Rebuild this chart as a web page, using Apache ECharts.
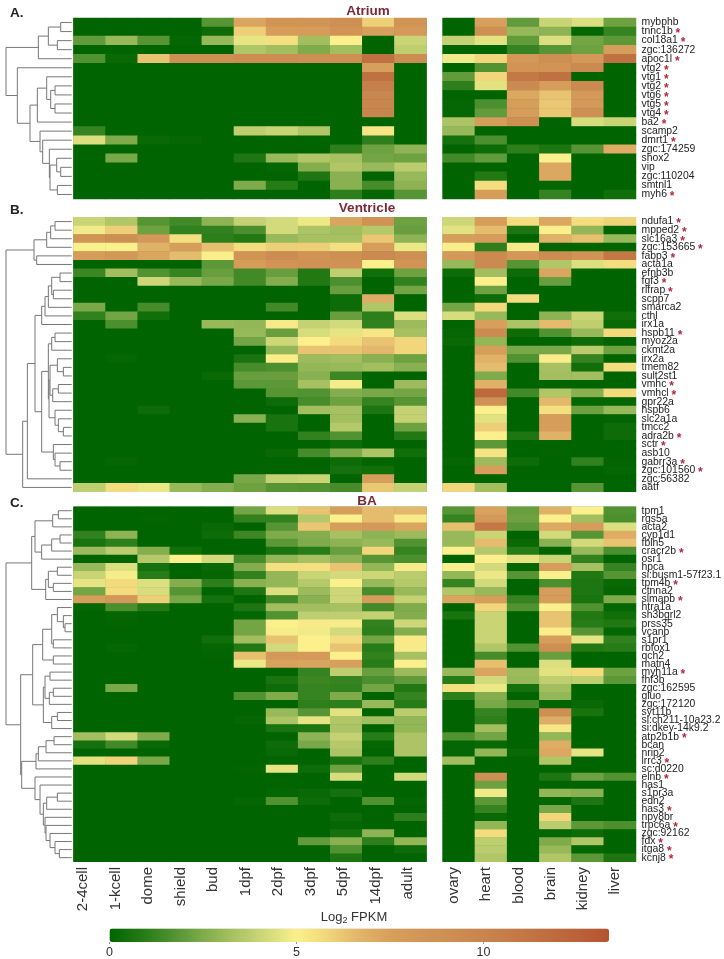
<!DOCTYPE html>
<html><head><meta charset="utf-8">
<style>html,body{margin:0;padding:0;background:#fff}#c{width:724px;height:959px}</style>
<script src="https://cdn.jsdelivr.net/npm/echarts@6/dist/echarts.min.js"></script>
</head><body><div id="c"></div>
<script>
const stages=['2-4cell','1-kcell','dome','shield','bud','1dpf','2dpf','3dpf','5dpf','14dpf','adult'];
const tissues=['ovary','heart','blood','brain','kidney','liver'];
const colorTicks=[0,5,10];
const genesA=['mybphb','tnnc1b*','col18a1*','zgc:136272','apoc1l*','vtg2*','vtg1*','vtg2*','vtg6*','vtg5*','vtg4*','ba2*','scamp2','dmrt1*','zgc:174259','shox2','vip','zgc:110204','smtnl1','myh6*'];
const genesB=['ndufa1*','mpped2*','slc16a3*','zgc:153665*','fabp3*','acta1a','efnb3b','fgf3*','rlfrap*','scpp7','smarca2','cthl','irx1a','hspb11*','myoz2a','ckmt2a','irx2a','tmem82','sult2st1','vmhc*','vmhcl*','gpr22a','hspb6','slc2a1a','tmcc2','adra2b*','sctr*','asb10','gabrr3a*','zgc:101560*','zgc:56382','aatf'];
const genesC=['tpm1','rgs5a','acta2','cyp1d1','fbln5','cracr2b*','osr1','hpca','si:busm1-57f23.1','tpm4b*','ctnna2','slmapb*','htra1a','sh3bgrl2','prss35','vcanb','s1pr1','rbfox1','qch2','matn4','myh11a*','fhf3b','zgc:162595','gluo','zgc:172120','syt11b','si:ch211-10a23.2','si:dkey-14k9.2','atp2b1b*','bcan','nrip2','lrrc3*','sc:d0220','elnb*','has1','s1pr3a','edn2','has3*','npy8br','trpc6a*','zgc:92162','fdx*','itga8*','kcnj8*'];
const devA=[
[0,0,0,0,1.8,7.3,8.5,8.5,9,6,8.5],
[0,0,0,0,.3,6,7.8,7.8,8.5,7.5,8],
[2,3,1.8,.1,3,4.6,5.5,3.2,5,0,4],
[0,0,0,0,0,3.5,3.2,2.5,3.2,0,3.8],
[1.7,.2,6.3,9,9,9.2,9.2,9,9,11.5,9.2],
[0,0,0,0,0,0,0,0,0,7.5,0],
[0,0,0,0,0,0,0,0,0,11.5,0],
[0,0,0,0,0,0,0,0,0,10.5,0],
[0,0,0,0,0,0,0,0,0,9.8,0],
[0,0,0,0,0,0,0,0,0,9.8,0],
[0,0,0,0,0,0,0,0,0,10,0],
[0,0,0,0,0,0,0,0,0,0,0],
[1.2,0,0,0,0,3.8,4,3.5,0,5.3,0],
[4.4,2.5,.2,.1,0,0,0,0,0,1,0],
[0,0,0,0,0,0,0,0,1,2.2,2.8],
[0,2.4,0,0,0,.7,3,3.5,3.3,2.3,2.2],
[0,0,0,0,0,0,.1,2.6,3.5,3,3.7],
[0,0,0,0,0,0,0,.7,2.7,0,3],
[0,0,0,0,0,2.5,.9,0,2.7,1.5,2.8],
[0,0,0,0,0,0,0,0,1,.1,1.8]];
const tisA=[
[0,7.5,2,4,4.4,2.2],[0,9,3,2.8,.1,1.2],[3.9,4.5,2,4.4,2.3,1.9],[0,0,1.2,1.8,2.2,7.6],[4.8,5.8,8.2,9,8,11.5],
[0,1.7,8.5,8.5,9.5,0],[2,5.8,11,11.5,0,0],[1,4.5,9.5,7.8,9.5,0],[0,0,7.2,6.3,8,0],[.1,1.6,7.6,6.2,8,0],
[.1,2,7.8,6.2,9,0],[3.4,7.6,9,0,4.3,4],[3,0,0,0,0,0],[.5,1.6,0,0,0,0],[0,.3,1,.7,1.8,7],
[1.4,2,0,5,0,0],[0,0,0,7.2,0,0],[0,.8,0,7.2,0,0],[0,5.6,0,.1,0,0],[0,7.8,0,1.2,0,.4]];
const devB=[
[4,3.5,1.8,1.4,2.8,3.9,4.2,4.7,7.3,8.7,2.2],
[4.8,6,2.2,1.1,1.1,1.6,4.2,3.4,3.2,3.6,2.1],
[8.5,9,8,5.5,1,.8,3,3.3,3.3,6.2,2.8],
[5,5,6.8,7.6,6.4,5.6,6,6,5.5,7.6,4.7],
[7.8,8.2,7.3,6.5,5.1,8.5,9.2,8.5,9,9.5,9],
[0,0,0,0,1.9,7.8,8.4,8.7,8.8,5,8.5],
[1.3,3.2,1.7,1.2,2.1,1.4,2.1,.8,3.8,.4,2.2],
[0,0,4.1,3,2.4,1.4,2.6,.8,1.6,0,1.1],
[0,0,0,0,0,0,0,0,2.1,0,2.3],
[0,0,0,0,0,0,0,0,.3,7,0],
[2.4,0,1.5,0,0,0,1.4,0,.3,3.5,0],
[1.1,2.3,.4,0,0,0,0,0,2.1,1,4.4],
[0,1.6,0,0,3,2.9,5.2,3.9,4.2,1.1,3.1],
[0,0,0,0,0,3,2.1,4.3,4.6,5.3,3.3],
[0,0,0,0,0,2.3,4.1,5,5.7,6.3,5.8],
[0,0,0,0,0,0,2.9,6.3,6.3,6.6,5.8],
[0,.1,0,0,0,.6,5.1,3.1,3.2,2.7,2.2],
[0,0,0,0,0,1.5,1.6,2.9,3,3.2,2.7],
[0,0,0,0,.2,2.1,2.1,2.7,1.3,0,0],
[0,0,0,0,0,1.9,1.9,3.3,4.9,0,3.1],
[0,0,0,0,0,0,1.8,1.7,2.6,2.4,2.3],
[0,0,0,0,0,0,.3,1.5,2.2,1.2,1.8],
[0,0,.3,0,0,0,0,3.2,3.3,.7,3.9],
[0,0,0,0,0,2.7,.6,0,3.2,0,3.9],
[0,0,0,0,0,0,.6,0,3.6,0,2.2],
[0,0,0,0,0,0,0,1.1,1.7,0,.8],
[0,0,0,0,0,0,0,0,.3,0,0],
[0,0,0,0,0,0,.2,1.5,2.5,3.4,.4],
[0,.1,0,0,0,0,0,0,.3,.05,0],
[0,0,0,0,0,0,0,.05,.5,.4,0],
[0,0,0,0,0,2.4,3.9,4,0,7.6,0],
[3.8,5.6,4.7,3,2.6,2.2,1.8,1.7,1.5,6.2,3.9]];
const tisB=[
[4.1,7.8,5.6,7.2,5.6,5.9],[4.5,6.5,.7,5,2.9,0],[7.6,7.8,0,6.8,6.4,3],[5.1,1,5.2,0,0,0],[8,9.5,8.2,9.2,8.5,11],
[3,9.5,1.8,3.5,4.4,5.6],[.3,3.2,.3,7.3,0,0],[0,5,0,2.1,0,0],[0,2.2,0,0,0,0],[0,.3,5.6,0,0,0],
[2.3,5.7,0,0,0,0],[4.3,3,0,2.8,4,.4],[0,7.5,3.4,6.5,3.8,.2],[.1,9.3,.3,1.7,3,5.7],[.2,2.9,0,0,.3,0],
[0,7.7,2.4,2.4,3.7,2.2],[0,6.8,1.7,5.1,1.2,0],[0,6.5,0,3.3,.4,5.6],[0,2.5,0,3.2,3.2,0],[0,6.8,0,0,0,0],
[0,12,1.4,3.5,2.7,5.7],[0,8.8,0,6.6,.1,.1],[0,5,0,5.5,2.2,3],[0,4.5,0,7.8,0,.05],[0,6,0,7.7,0,.3],
[0,5,.7,6.8,0,.3],[0,1.9,0,0,0,0],[0,5.4,0,.05,0,0],[.1,3.1,.3,0,1.1,.05],[0,7.7,0,0,0,.1],
[0,0,0,0,0,0],[5.8,3.2,0,0,1.8,0]];
const devC=[
[0,0,0,0,0,2.3,4.4,6.3,7.6,6.5,6.6],
[0,0,.05,0,0,1.1,1.1,3.6,5,6.5,5.2],
[0,0,0,0,.2,0,1.8,6.2,7.6,8,7.3],
[1.1,2.8,0,0,.3,1.3,2.5,2.6,3.3,2.8,3.1],
[.6,1,0,0,0,0,1.9,2.5,2.8,3,1.7],
[3.1,3.7,2.6,.4,0,0,.6,.9,2.1,5.8,1.2],
[0,0,3.6,5,4.2,1.5,2.9,3.3,2.8,1.8,1.6],
[3,4.4,.5,0,.2,2.6,5.5,5.5,6.3,2.9,4.9],
[4,4.9,.9,0,.1,1.1,2.9,4,4.2,4.1,3.7],
[4.6,5.7,4.4,2.6,1,2.7,2.9,3.6,5,3,3.6],
[2.3,5.6,4.3,1.8,0,.7,4.4,3.1,4.1,1.5,3],
[7.6,8,6,2.4,.5,0,1.4,2.7,4.1,7.8,3.9],
[.1,1.6,.8,0,0,.7,3.2,3.2,3.3,1.4,2.5],
[0,.1,0,0,0,.1,1.7,3.8,3.8,3.9,2.6],
[0,.05,0,0,0,2.3,5,5.2,4.9,1.1,4.1],
[0,0,0,0,0,2.3,4.9,4.8,4.2,1,2.6],
[0,0,0,0,.4,3.2,6.3,5,5.6,2.3,5.2],
[0,.1,0,0,.1,.8,4.2,5,6.3,.9,5.2],
[0,0,0,0,.05,6.4,8,7.9,5,1.1,3.3],
[0,0,0,0,0,4.7,7.4,7.3,7.5,.9,5],
[0,0,0,0,0,0,.05,1.2,3.8,2.1,3.1],
[0,0,0,0,0,0,.6,1.3,1.2,1.6,2],
[0,2.4,0,0,0,0,.3,1.2,1.1,2.3,.8],
[0,0,0,0,0,1.7,2.5,1.2,2.5,0,1.2],
[0,0,0,0,0,0,0,1,1,3,.9],
[0,0,0,0,0,0,3,1.8,4.5,0,3.7],
[0,0,0,0,0,.1,3.4,4.6,3.5,3.2,2.9],
[0,0,0,0,0,0,.6,.7,3.4,0,2.9],
[3.2,4.2,2.5,0,0,0,0,2.8,3.9,.9,3.4],
[.5,1.4,.2,0,0,0,.3,2.4,3.6,.1,3.4],
[0,0,0,0,0,0,.2,0,3.4,0,3.4],
[4.5,5.9,2.4,0,0,0,0,0,.6,1,0],
[0,0,0,0,0,.05,4.6,.3,2.2,0,0],
[0,0,0,0,0,0,0,0,4.3,0,4.2],
[0,0,0,0,0,0,0,0,0,0,0],
[0,0,0,0,0,0,.1,.2,.5,0,0],
[0,0,0,0,0,.1,1.7,.3,0,1.7,.1],
[0,0,0,0,0,0,0,0,0,0,0],
[0,0,0,0,0,0,0,0,.3,0,1],
[0,0,0,0,0,0,0,0,.1,0,0],
[0,0,0,0,0,0,0,0,.5,2.8,0],
[0,0,0,0,0,0,0,2,2.7,1,2.9],
[0,0,0,0,0,0,0,0,1.7,0,.3],
[0,0,0,0,0,0,0,0,.7,0,0]];
const tisC=[
[1.8,7.4,2.1,6.8,5,1.7],[1.2,8,2.2,5,3.2,1.6],[6.4,11,1.9,7.1,7.8,4.4],[3,4,0,4.2,1.8,7],[3,6.5,.2,2.7,4.2,6.3],
[5,3.6,.9,0,3,1.6],[0,5,4.6,4,1.1,0],[5,4.2,.1,7.8,3.3,1.2],[2.9,4.7,1.8,5,.8,1.8],[1.2,4.2,0,1.6,.7,.2],
[3.5,3,0,7.7,.7,.1],[7.3,7.6,1.2,7.8,.6,2.5],[0,5.8,1.7,5,1.7,.1],[.6,4,0,6.3,.8,.4],[0,4,0,6.3,.9,.8],
[0,4,0,5.1,1.8,.1],[0,4,0,7.6,4.6,1.1],[0,3.5,1.7,9,.8,.9],[0,1.5,0,2.1,0,0],[0,6.4,0,4.4,0,0],
[3,7.3,3.1,4.5,5.7,2.2],[.9,4.2,3,3.8,3.8,1.9],[5.5,4.7,.5,3.2,0,0],[1,2.6,0,2.9,0,0],[0,2.4,1.5,0,.2,0],
[0,1.2,0,9,.6,0],[0,1,0,7,0,0],[0,3.2,0,5.3,0,0],[1.7,2.3,0,2.9,0,0],[.1,.2,0,7,0,0],
[.1,2.9,.2,7.2,4.6,0],[3.2,0,0,3.5,0,0],[0,0,0,0,0,0],[0,9,0,.7,2.2,1.7],[0,2.2,0,0,0,0],
[0,4.8,0,2.9,2.7,0],[0,1.9,0,.1,.7,0],[0,1.2,0,2.4,0,0],[0,.2,0,5.8,0,0],[0,2.9,0,3.7,1.9,1.6],
[0,5.6,0,.1,.3,0],[0,3.8,0,2.5,3.5,0],[0,3.7,0,3,.1,0],[0,3.5,0,3.5,1.9,.7]];
// dendrograms: [merge depth, child, child]; plain numbers are row indices
const treeA=[18,[115,[145,[182,0,1],[172,2,3]],4],[52,5,[90,[112,[140,6,[152,[165,7,8],[165,9,10]]],11],[120,12,[128,13,[148,14,[150,[170,15,[182,16,17]],[172,18,19]]]]]]]];
const treeB=[18,[102,[140,[152,[165,0,1],2],3],[110,4,5]],[68,[82,[105,[125,[135,[145,[155,[180,6,7],[160,8,9]],10],11],12],[125,[145,[155,[165,13,14],15],[147,[150,[172,16,[190,17,18]],[158,[175,19,20],21]],[165,22,[175,23,[190,24,25]]]]],[160,26,[165,27,[180,28,29]]]]],30],31]];
const treeC=[18,[95,[105,[158,[175,0,1],2],[125,[155,[180,3,4],5],6]],[137,[145,[172,7,8],[160,9,10]],11]],[62,[98,[128,[155,[172,12,[190,13,[195,14,15]]],[160,16,17]],[160,18,19]],[130,[135,[150,20,21],[148,[160,22,23],24]],[155,[172,25,26],27]]],[65,[108,[115,[138,[162,28,29],30],31],32],[105,33,[120,34,[130,[140,[172,35,36],37],[135,38,[138,39,[150,40,[165,41,[178,42,43]]]]]]]]]]];
const rampColors=['#006400','#237a15','#4f9130','#7fab4b','#a9c263','#d1d97a','#fbf08c','#f0d57a','#e2b569','#d79f5c','#d29556','#cd8d52','#c8854e','#c47a47','#bf6e40','#ba6139','#b4552f'];
const colorMax=13.35;

function cells(m){const o=[];m.forEach((r,y)=>r.forEach((v,x)=>o.push([x,y,v])));return o;}
function segs(t,out){ // returns [depth,y] of node
  if(typeof t==='number')return [215,t];
  const a=segs(t[1],out),b=segs(t[2],out),d=t[0];
  out.push([a[0],a[1],d,a[1]],[b[0],b[1],d,b[1]],[d,a[1],d,b[1]]);
  return [d,(a[1]+b[1])/2];
}
const FONT='"Liberation Sans",Arial,sans-serif';
const panels=[
 {g:genesA,dev:devA,tis:tisA,tree:treeA,top:18,bottom:199},
 {g:genesB,dev:devB,tis:tisB,tree:treeB,top:217.3,bottom:491.7},
 {g:genesC,dev:devC,tis:tisC,tree:treeC,top:506.7,bottom:861.7}];
const L1=73.5,L2=426.5,R1=442.7,R2=636;
const grid=[],xAxis=[],yAxis=[],series=[];
function addGrid(l,r,t,b,bg){grid.push({left:l,width:r-l,top:t,height:b-t,containLabel:false,outerBoundsMode:'none',
  show:!!bg,backgroundColor:bg||'transparent',borderWidth:0});return grid.length-1;}
// heat maps
panels.forEach(p=>{
  const names=p.g.map(s=>s.replace('*',''));
  [[L1,L2,stages,p.dev,false],[R1,R2,tissues,p.tis,true]].forEach(([a,b,cats,m,lab])=>{
    const i=addGrid(a,b,p.top,p.bottom,rampColors[0]);
    xAxis.push({gridIndex:i,type:'category',data:cats,show:false});
    yAxis.push({gridIndex:i,type:'category',inverse:true,data:lab?p.g:names,position:'right',
      axisLine:{show:false},axisTick:{show:false},splitLine:{show:false},
      axisLabel:{show:lab,interval:0,margin:5.5,hideOverlap:false,
        fontFamily:FONT,fontSize:10.4,color:'#222',
        formatter:s=>s.endsWith('*')?s.slice(0,-1)+' {s|*}':s,
        rich:{s:{color:'#b3283c',fontSize:12,fontWeight:'bold',fontFamily:FONT,padding:[5,0,0,0]}}}});
    series.push({type:'heatmap',xAxisIndex:i,yAxisIndex:i,data:cells(m),progressive:0,animation:false,silent:true,itemStyle:{borderWidth:0}});
  });
});
const nHeat=series.length;
// bottom category labels (offset from the columns as in the figure)
[[66.75,424.25,stages],[437.9,631.3,tissues]].forEach(([a,b,cats])=>{
  const i=addGrid(a,b,860,861);
  xAxis.push({gridIndex:i,type:'category',data:cats,axisLine:{show:false},axisTick:{show:false},
    axisLabel:{interval:0,rotate:90,margin:6,fontFamily:FONT,fontSize:15,color:'#333'}});
  yAxis.push({gridIndex:i,type:'value',show:false});
});
// colour bar axis
{const i=addGrid(109.5,109.5+37.4*colorMax,928.5,942);
 xAxis.push({gridIndex:i,type:'value',min:0,max:colorMax,interval:5,splitLine:{show:false},axisLine:{show:false},
   axisTick:{show:true,inside:false,length:2,lineStyle:{color:'#999'}},
   axisLabel:{margin:4,fontFamily:FONT,fontSize:12.5,color:'#333',showMaxLabel:false,
     formatter:v=>colorTicks.includes(v)?String(v):''}});
 yAxis.push({gridIndex:i,type:'value',show:false});}
// dendrograms
panels.forEach(p=>{
  const i=addGrid(6,71.7,p.top,p.bottom);
  xAxis.push({gridIndex:i,type:'value',min:18,max:215,show:false});
  yAxis.push({gridIndex:i,type:'value',min:-.5,max:p.g.length-.5,inverse:true,show:false});
  const d=[];segs(p.tree,d);
  series.push({type:'custom',xAxisIndex:i,yAxisIndex:i,data:d,silent:true,animation:false,clip:false,
    encode:{x:[0,2],y:[1,3]},
    renderItem:(ctx,api)=>{const a=api.coord([api.value(0),api.value(1)]),b=api.coord([api.value(2),api.value(3)]);
      return {type:'line',shape:{x1:a[0],y1:a[1],x2:b[0],y2:b[1]},style:{stroke:'#777',lineWidth:1,fill:null}};}});
});
const title=[
 ...[['Atrium',368,4],['Ventricle',367,201.5],['BA',367,494]].map(([t,x,y])=>({text:t,left:x,top:y,textAlign:'center',padding:0,textStyle:{fontFamily:FONT,fontSize:13.5,fontWeight:'bold',color:'#7a2a35'}})),
 ...[['A.',10,6],['B.',10,203.5],['C.',10,496.5]].map(([t,x,y])=>({text:t,left:x,top:y,padding:0,textStyle:{fontFamily:FONT,fontSize:13.5,fontWeight:'bold',color:'#222'}})),
 {text:'Log{b|2} FPKM',left:354,top:910,textAlign:'center',padding:0,textStyle:{fontFamily:FONT,fontSize:13,fontWeight:'normal',color:'#333',rich:{b:{fontSize:9,padding:[6,0,0,0],fontFamily:FONT,color:'#333'}}}}
];
const chart=echarts.init(document.getElementById('c'),null,{renderer:'canvas'});
chart.setOption({animation:false,backgroundColor:'#fff',title,grid,xAxis,yAxis,series,
 tooltip:{show:false},
 visualMap:{type:'continuous',min:0,max:colorMax,dimension:2,seriesIndex:Array.from({length:nHeat},(_,i)=>i),
   orient:'horizontal',left:109.5,top:928.5,itemWidth:13.5,itemHeight:499.5,padding:0,calculable:false,text:null,showLabel:false,
   inRange:{color:rampColors},textStyle:{color:'transparent',fontSize:1}}
});
</script></body></html>
